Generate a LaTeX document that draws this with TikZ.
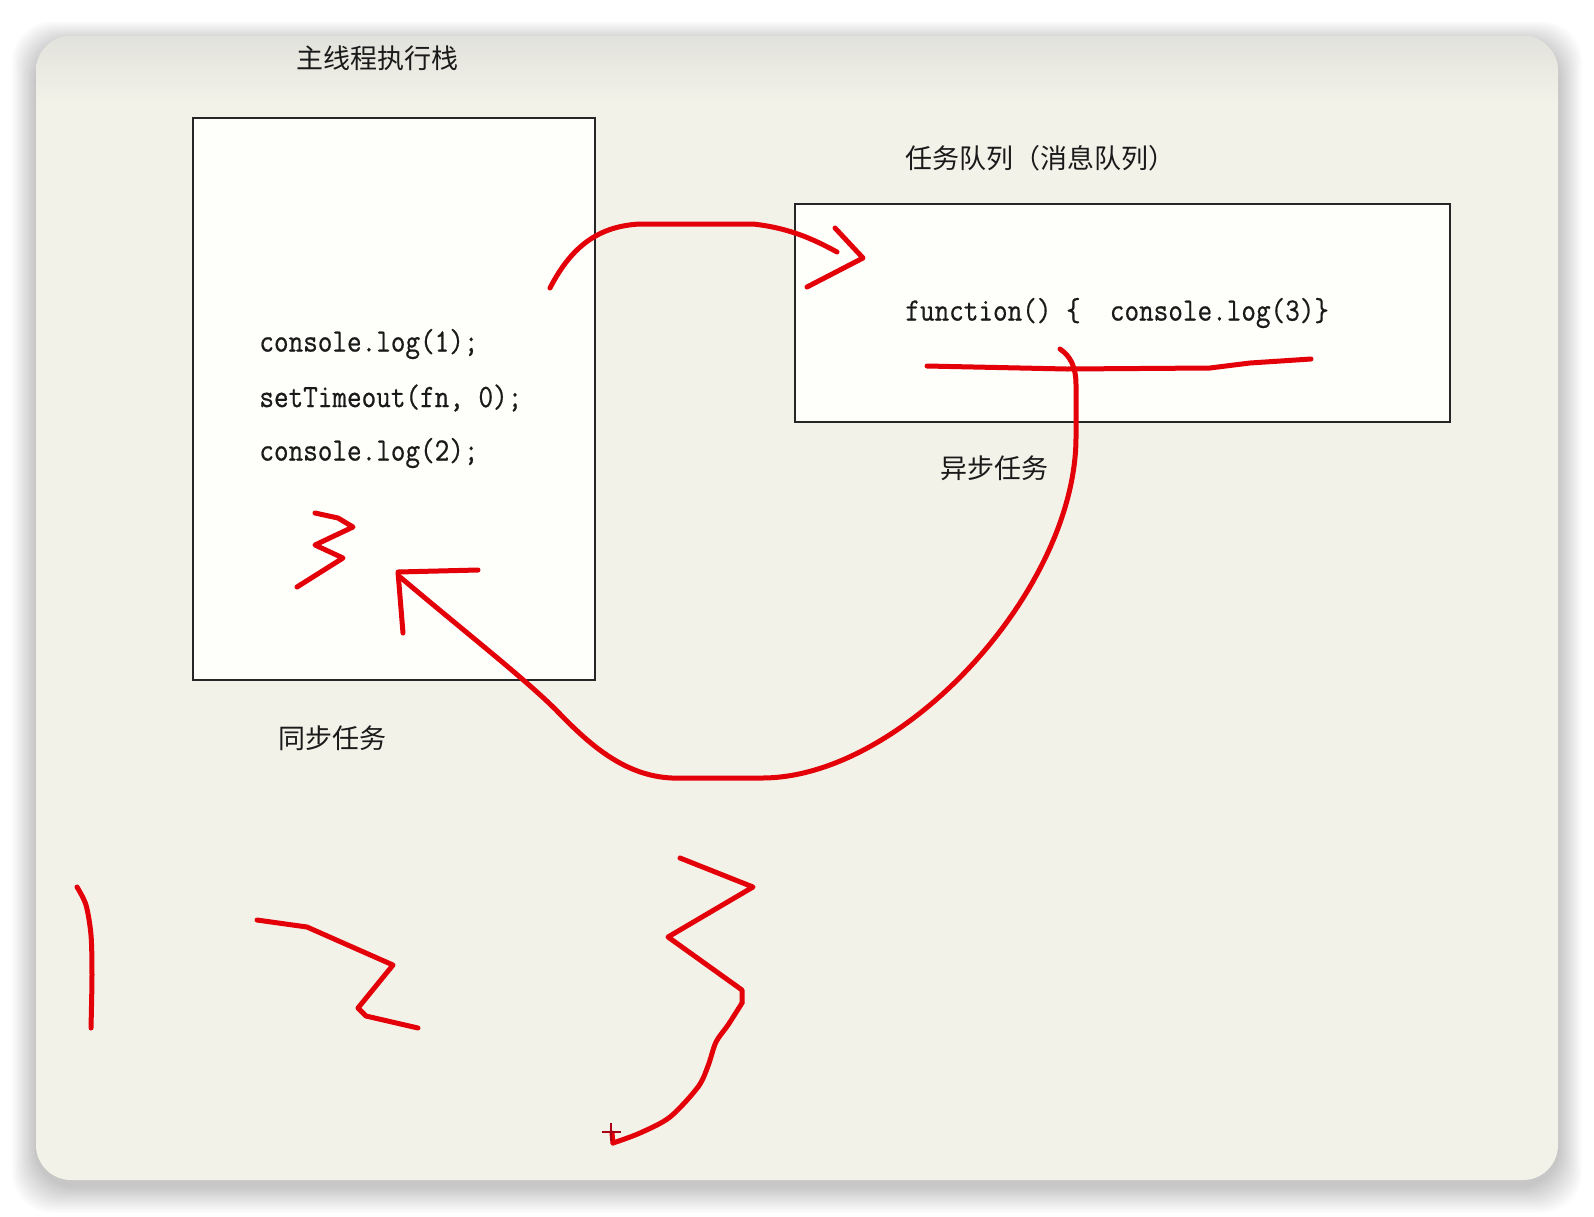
\documentclass[tikz,border=0pt]{standalone}
\usepackage{fontspec}
\newfontfamily\cjk{Noto Sans CJK SC}
\newfontfamily\codefont[FakeStretch=0.87,FakeBold=0.6]{Latin Modern Mono}
\definecolor{inkred}{RGB}{228,0,8}
\definecolor{plusred}{RGB}{170,0,20}
\definecolor{cardbg}{RGB}{243,242,233}
\definecolor{cardtop}{RGB}{226,226,220}
\definecolor{boxwhite}{RGB}{254,254,251}
\definecolor{txt}{RGB}{26,26,26}
\begin{document}
\begin{tikzpicture}[x=0.5pt,y=-0.5pt,
  redink/.style={draw=inkred,line width=2.5pt,line cap=round,line join=round},
  box/.style={draw=black!85,line width=1.1pt,fill=boxwhite,inner sep=0pt,anchor=north west},
  cn/.style={font=\cjk\fontsize{13.5pt}{15pt}\selectfont,text=txt,inner sep=0pt},
  code/.style={font=\codefont\fontsize{16.3pt}{18pt}\selectfont,text=txt,inner sep=0pt,anchor=west}]
\useasboundingbox (0,0) rectangle (1594,1216);
\fill[white] (0,0) rectangle (1594,1216);
% shadow
\foreach \i in {1,...,14}{
  \pgfmathsetmacro\xa{36-1.7*\i}
  \pgfmathsetmacro\ya{44-1.6*\i}
  \pgfmathsetmacro\xb{1558+1.7*\i}
  \pgfmathsetmacro\yb{1186+1.9*\i}
  \fill[black,opacity=0.014,rounded corners=20pt] (\xa,\ya) rectangle (\xb,\yb);
}
% card
\fill[cardbg,rounded corners=17.5pt] (36,36) rectangle (1558,1180);
\begin{scope}
  \clip[rounded corners=17.5pt] (36,36) rectangle (1558,1180);
  \shade[top color=cardtop,bottom color=cardbg] (36,36) rectangle (1558,105);
\end{scope}
% boxes
\node[box,minimum width=201pt,minimum height=281pt] (stack) at (192,117) {};
\node[box,minimum width=327.5pt,minimum height=109pt] (queue) at (794,203) {};
% texts
\node[cn] (stacktitle) at (377,58) {主线程执行栈};
\node[cn,anchor=west] (queuetitle) at (905,158) {任务队列（消息队列）};
\node[code] (c1) at (259,344) {console.log(1);};
\node[code] (c2) at (259,398) {setTimeout(fn,\ 0);};
\node[code] (c3) at (259,453) {console.log(2);};
\node[code] (fn) at (905,313) {function()\ \{\ \ console.log(3)\}};
\node[cn,anchor=west] (async) at (940,468) {异步任务};
\node[cn,anchor=west] (sync) at (278,738) {同步任务};
% top arc with open arrow
\coordinate (a0) at (550,288);
\coordinate (a1) at (837,252);
\coordinate (ah1) at (835,228);
\coordinate (ah2) at (863,258);
\coordinate (ah3) at (807,287);
\draw[redink] (a0) .. controls (572,245) and (600,226) .. (640,224) -- (753,224) .. controls (790,228) and (815,240) .. (a1);
\draw[redink] (ah1) -- (ah2) -- (ah3);
% underline in queue box
\draw[redink] (927,366) -- (1067,369) -- (1210,368) -- (1250,363) -- (1311,359);
% return arc
\coordinate (r0) at (1060,349);
\coordinate (rtip) at (400,577);
\draw[redink] (r0) .. controls (1070,356) and (1076,366) .. (1076,385) -- (1076,437)
  .. controls (1076,590) and (903,778) .. (762,778) -- (672,778)
  .. controls (625,776) and (590,745) .. (559,713)
  .. controls (530,683) and (470,636) .. (rtip);
\coordinate (tip) at (398,572);
\draw[redink] (478,570) -- (tip) -- (403,633);
% small 3 in stack
\draw[redink] (315,513) -- (338,518) -- (353,527) -- (315,545) -- (343,558) -- (297,587);
% bottom 1 2 3
\draw[redink] plot[smooth,tension=0.5] coordinates {(77,887) (86,905) (91,935) (92,975) (91,1028)};
\draw[redink] (257,920) -- (307,927) -- (393,965) -- (358,1008) -- (366,1016) -- (418,1028);
\draw[redink] (680,858) -- (753,887) -- (668,937) -- (742,990) -- (742,1003);
\draw[redink] plot[smooth,tension=0.5] coordinates {(742,1003) (728,1025) (716,1042) (708,1066) (698,1087) (670,1117) (640,1133) (613,1143)};
\draw[redink] (613,1143) -- (612,1133);
\draw[plusred,line width=1.1pt] (602,1132) -- (621,1132) (611,1123) -- (611,1141);
\end{tikzpicture}
\end{document}
